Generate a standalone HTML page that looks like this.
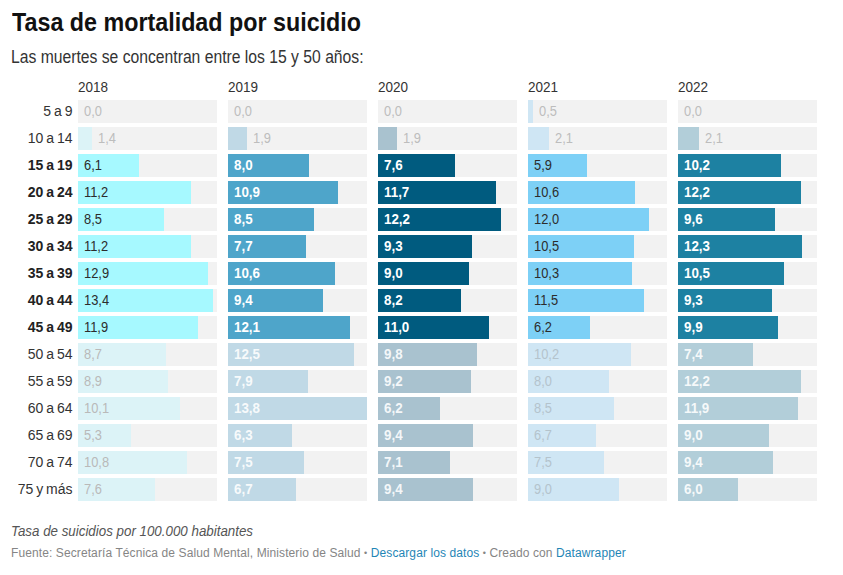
<!DOCTYPE html>
<html><head><meta charset="utf-8"><title>Tasa de mortalidad por suicidio</title>
<style>
html,body{margin:0;padding:0;background:#fff;}
body{width:843px;height:575px;position:relative;overflow:hidden;font-family:"Liberation Sans",sans-serif;color:#333;}
.abs{position:absolute;white-space:nowrap;}
h1{position:absolute;margin:0;left:12px;top:7px;font-size:25.6px;line-height:30px;font-weight:bold;color:#111;white-space:nowrap;transform-origin:0 0;transform:scaleX(0.91);}
.sub{left:11px;top:46px;font-size:17.5px;line-height:22px;color:#333;transform-origin:0 0;transform:scaleX(0.897);}
.yr{font-size:14px;line-height:16px;color:#333;top:79px;transform-origin:0 0;transform:scaleX(0.965);}
.lab{font-size:14px;line-height:22.7px;color:#333;text-align:right;left:0;width:72.5px;word-spacing:-1px;}
.lab.b{font-weight:bold;color:#222;}
.bg{background:#f2f2f2;height:22.7px;width:139px;}
.bar{height:22.7px;}
.v{font-size:14px;line-height:22.7px;transform-origin:0 0;transform:scaleX(0.92);}
.v.b{font-weight:bold;transform:scaleX(0.955);}
.v.f{opacity:0.88;}
.foot i{font-style:normal;font-size:9px;position:relative;top:-1px;}
.note{left:11px;top:522px;font-size:14.5px;line-height:18px;font-style:italic;color:#555;transform-origin:0 0;transform:scaleX(0.92);}
.foot{left:11px;top:545px;font-size:12px;line-height:16px;color:#858585;letter-spacing:0.1px;}
.foot a{color:#1f86b6;text-decoration:none;}
</style></head><body>
<h1>Tasa de mortalidad por suicidio</h1>
<div class="abs sub">Las muertes se concentran entre los 15 y 50 años:</div>

<div class="abs lab" style="top:100px">5 a 9</div>
<div class="abs lab" style="top:127px">10 a 14</div>
<div class="abs lab b" style="top:154px">15 a 19</div>
<div class="abs lab b" style="top:181px">20 a 24</div>
<div class="abs lab b" style="top:208px">25 a 29</div>
<div class="abs lab b" style="top:235px">30 a 34</div>
<div class="abs lab b" style="top:262px">35 a 39</div>
<div class="abs lab b" style="top:289px">40 a 44</div>
<div class="abs lab b" style="top:316px">45 a 49</div>
<div class="abs lab" style="top:343px">50 a 54</div>
<div class="abs lab" style="top:370px">55 a 59</div>
<div class="abs lab" style="top:397px">60 a 64</div>
<div class="abs lab" style="top:424px">65 a 69</div>
<div class="abs lab" style="top:451px">70 a 74</div>
<div class="abs lab" style="top:478px">75 y más</div>
<div class="abs yr" style="left:78px">2018</div>
<div class="abs bg" style="left:78px;top:100px"></div>
<div class="abs v" style="left:83.5px;top:100px;color:#bdbdbd">0,0</div>
<div class="abs bg" style="left:78px;top:127px"></div>
<div class="abs bar" style="left:78px;top:127px;width:14.1px;background:#dcf3f7"></div>
<div class="abs v" style="left:97.6px;top:127px;color:#bdbdbd">1,4</div>
<div class="abs bg" style="left:78px;top:154px"></div>
<div class="abs bar" style="left:78px;top:154px;width:61.4px;background:#a6f9ff"></div>
<div class="abs v" style="left:83.5px;top:154px;color:#2c2c2c">6,1</div>
<div class="abs bg" style="left:78px;top:181px"></div>
<div class="abs bar" style="left:78px;top:181px;width:112.8px;background:#a6f9ff"></div>
<div class="abs v" style="left:83.5px;top:181px;color:#2c2c2c">11,2</div>
<div class="abs bg" style="left:78px;top:208px"></div>
<div class="abs bar" style="left:78px;top:208px;width:85.6px;background:#a6f9ff"></div>
<div class="abs v" style="left:83.5px;top:208px;color:#2c2c2c">8,5</div>
<div class="abs bg" style="left:78px;top:235px"></div>
<div class="abs bar" style="left:78px;top:235px;width:112.8px;background:#a6f9ff"></div>
<div class="abs v" style="left:83.5px;top:235px;color:#2c2c2c">11,2</div>
<div class="abs bg" style="left:78px;top:262px"></div>
<div class="abs bar" style="left:78px;top:262px;width:129.9px;background:#a6f9ff"></div>
<div class="abs v" style="left:83.5px;top:262px;color:#2c2c2c">12,9</div>
<div class="abs bg" style="left:78px;top:289px"></div>
<div class="abs bar" style="left:78px;top:289px;width:135.0px;background:#a6f9ff"></div>
<div class="abs v" style="left:83.5px;top:289px;color:#2c2c2c">13,4</div>
<div class="abs bg" style="left:78px;top:316px"></div>
<div class="abs bar" style="left:78px;top:316px;width:119.9px;background:#a6f9ff"></div>
<div class="abs v" style="left:83.5px;top:316px;color:#2c2c2c">11,9</div>
<div class="abs bg" style="left:78px;top:343px"></div>
<div class="abs bar" style="left:78px;top:343px;width:87.6px;background:#dcf3f7"></div>
<div class="abs v" style="left:83.5px;top:343px;color:#b9b9b9">8,7</div>
<div class="abs bg" style="left:78px;top:370px"></div>
<div class="abs bar" style="left:78px;top:370px;width:89.6px;background:#dcf3f7"></div>
<div class="abs v" style="left:83.5px;top:370px;color:#b9b9b9">8,9</div>
<div class="abs bg" style="left:78px;top:397px"></div>
<div class="abs bar" style="left:78px;top:397px;width:101.7px;background:#dcf3f7"></div>
<div class="abs v" style="left:83.5px;top:397px;color:#b9b9b9">10,1</div>
<div class="abs bg" style="left:78px;top:424px"></div>
<div class="abs bar" style="left:78px;top:424px;width:53.4px;background:#dcf3f7"></div>
<div class="abs v" style="left:83.5px;top:424px;color:#b9b9b9">5,3</div>
<div class="abs bg" style="left:78px;top:451px"></div>
<div class="abs bar" style="left:78px;top:451px;width:108.8px;background:#dcf3f7"></div>
<div class="abs v" style="left:83.5px;top:451px;color:#b9b9b9">10,8</div>
<div class="abs bg" style="left:78px;top:478px"></div>
<div class="abs bar" style="left:78px;top:478px;width:76.6px;background:#dcf3f7"></div>
<div class="abs v" style="left:83.5px;top:478px;color:#b9b9b9">7,6</div>
<div class="abs yr" style="left:228px">2019</div>
<div class="abs bg" style="left:228px;top:100px"></div>
<div class="abs v" style="left:233.5px;top:100px;color:#bdbdbd">0,0</div>
<div class="abs bg" style="left:228px;top:127px"></div>
<div class="abs bar" style="left:228px;top:127px;width:19.1px;background:#c0d9e6"></div>
<div class="abs v" style="left:252.6px;top:127px;color:#bdbdbd">1,9</div>
<div class="abs bg" style="left:228px;top:154px"></div>
<div class="abs bar" style="left:228px;top:154px;width:80.6px;background:#4ea5ca"></div>
<div class="abs v b" style="left:233.5px;top:154px;color:#fff">8,0</div>
<div class="abs bg" style="left:228px;top:181px"></div>
<div class="abs bar" style="left:228px;top:181px;width:109.8px;background:#4ea5ca"></div>
<div class="abs v b" style="left:233.5px;top:181px;color:#fff">10,9</div>
<div class="abs bg" style="left:228px;top:208px"></div>
<div class="abs bar" style="left:228px;top:208px;width:85.6px;background:#4ea5ca"></div>
<div class="abs v b" style="left:233.5px;top:208px;color:#fff">8,5</div>
<div class="abs bg" style="left:228px;top:235px"></div>
<div class="abs bar" style="left:228px;top:235px;width:77.6px;background:#4ea5ca"></div>
<div class="abs v b" style="left:233.5px;top:235px;color:#fff">7,7</div>
<div class="abs bg" style="left:228px;top:262px"></div>
<div class="abs bar" style="left:228px;top:262px;width:106.8px;background:#4ea5ca"></div>
<div class="abs v b" style="left:233.5px;top:262px;color:#fff">10,6</div>
<div class="abs bg" style="left:228px;top:289px"></div>
<div class="abs bar" style="left:228px;top:289px;width:94.7px;background:#4ea5ca"></div>
<div class="abs v b" style="left:233.5px;top:289px;color:#fff">9,4</div>
<div class="abs bg" style="left:228px;top:316px"></div>
<div class="abs bar" style="left:228px;top:316px;width:121.9px;background:#4ea5ca"></div>
<div class="abs v b" style="left:233.5px;top:316px;color:#fff">12,1</div>
<div class="abs bg" style="left:228px;top:343px"></div>
<div class="abs bar" style="left:228px;top:343px;width:125.9px;background:#c0d9e6"></div>
<div class="abs v b f" style="left:233.5px;top:343px;color:#fff">12,5</div>
<div class="abs bg" style="left:228px;top:370px"></div>
<div class="abs bar" style="left:228px;top:370px;width:79.6px;background:#c0d9e6"></div>
<div class="abs v b f" style="left:233.5px;top:370px;color:#fff">7,9</div>
<div class="abs bg" style="left:228px;top:397px"></div>
<div class="abs bar" style="left:228px;top:397px;width:139.0px;background:#c0d9e6"></div>
<div class="abs v b f" style="left:233.5px;top:397px;color:#fff">13,8</div>
<div class="abs bg" style="left:228px;top:424px"></div>
<div class="abs bar" style="left:228px;top:424px;width:63.5px;background:#c0d9e6"></div>
<div class="abs v b f" style="left:233.5px;top:424px;color:#fff">6,3</div>
<div class="abs bg" style="left:228px;top:451px"></div>
<div class="abs bar" style="left:228px;top:451px;width:75.5px;background:#c0d9e6"></div>
<div class="abs v b f" style="left:233.5px;top:451px;color:#fff">7,5</div>
<div class="abs bg" style="left:228px;top:478px"></div>
<div class="abs bar" style="left:228px;top:478px;width:67.5px;background:#c0d9e6"></div>
<div class="abs v b f" style="left:233.5px;top:478px;color:#fff">6,7</div>
<div class="abs yr" style="left:378px">2020</div>
<div class="abs bg" style="left:378px;top:100px"></div>
<div class="abs v" style="left:383.5px;top:100px;color:#bdbdbd">0,0</div>
<div class="abs bg" style="left:378px;top:127px"></div>
<div class="abs bar" style="left:378px;top:127px;width:19.1px;background:#a9c2cf"></div>
<div class="abs v" style="left:402.6px;top:127px;color:#bdbdbd">1,9</div>
<div class="abs bg" style="left:378px;top:154px"></div>
<div class="abs bar" style="left:378px;top:154px;width:76.6px;background:#005b7f"></div>
<div class="abs v b" style="left:383.5px;top:154px;color:#fff">7,6</div>
<div class="abs bg" style="left:378px;top:181px"></div>
<div class="abs bar" style="left:378px;top:181px;width:117.8px;background:#005b7f"></div>
<div class="abs v b" style="left:383.5px;top:181px;color:#fff">11,7</div>
<div class="abs bg" style="left:378px;top:208px"></div>
<div class="abs bar" style="left:378px;top:208px;width:122.9px;background:#005b7f"></div>
<div class="abs v b" style="left:383.5px;top:208px;color:#fff">12,2</div>
<div class="abs bg" style="left:378px;top:235px"></div>
<div class="abs bar" style="left:378px;top:235px;width:93.7px;background:#005b7f"></div>
<div class="abs v b" style="left:383.5px;top:235px;color:#fff">9,3</div>
<div class="abs bg" style="left:378px;top:262px"></div>
<div class="abs bar" style="left:378px;top:262px;width:90.7px;background:#005b7f"></div>
<div class="abs v b" style="left:383.5px;top:262px;color:#fff">9,0</div>
<div class="abs bg" style="left:378px;top:289px"></div>
<div class="abs bar" style="left:378px;top:289px;width:82.6px;background:#005b7f"></div>
<div class="abs v b" style="left:383.5px;top:289px;color:#fff">8,2</div>
<div class="abs bg" style="left:378px;top:316px"></div>
<div class="abs bar" style="left:378px;top:316px;width:110.8px;background:#005b7f"></div>
<div class="abs v b" style="left:383.5px;top:316px;color:#fff">11,0</div>
<div class="abs bg" style="left:378px;top:343px"></div>
<div class="abs bar" style="left:378px;top:343px;width:98.7px;background:#a9c2cf"></div>
<div class="abs v b f" style="left:383.5px;top:343px;color:#fff">9,8</div>
<div class="abs bg" style="left:378px;top:370px"></div>
<div class="abs bar" style="left:378px;top:370px;width:92.7px;background:#a9c2cf"></div>
<div class="abs v b f" style="left:383.5px;top:370px;color:#fff">9,2</div>
<div class="abs bg" style="left:378px;top:397px"></div>
<div class="abs bar" style="left:378px;top:397px;width:62.4px;background:#a9c2cf"></div>
<div class="abs v b f" style="left:383.5px;top:397px;color:#fff">6,2</div>
<div class="abs bg" style="left:378px;top:424px"></div>
<div class="abs bar" style="left:378px;top:424px;width:94.7px;background:#a9c2cf"></div>
<div class="abs v b f" style="left:383.5px;top:424px;color:#fff">9,4</div>
<div class="abs bg" style="left:378px;top:451px"></div>
<div class="abs bar" style="left:378px;top:451px;width:71.5px;background:#a9c2cf"></div>
<div class="abs v b f" style="left:383.5px;top:451px;color:#fff">7,1</div>
<div class="abs bg" style="left:378px;top:478px"></div>
<div class="abs bar" style="left:378px;top:478px;width:94.7px;background:#a9c2cf"></div>
<div class="abs v b f" style="left:383.5px;top:478px;color:#fff">9,4</div>
<div class="abs yr" style="left:528px">2021</div>
<div class="abs bg" style="left:528px;top:100px"></div>
<div class="abs bar" style="left:528px;top:100px;width:5.0px;background:#cfe6f4"></div>
<div class="abs v" style="left:538.5px;top:100px;color:#bdbdbd">0,5</div>
<div class="abs bg" style="left:528px;top:127px"></div>
<div class="abs bar" style="left:528px;top:127px;width:21.2px;background:#cfe6f4"></div>
<div class="abs v" style="left:554.7px;top:127px;color:#bdbdbd">2,1</div>
<div class="abs bg" style="left:528px;top:154px"></div>
<div class="abs bar" style="left:528px;top:154px;width:59.4px;background:#7dd0f6"></div>
<div class="abs v" style="left:533.5px;top:154px;color:#2c2c2c">5,9</div>
<div class="abs bg" style="left:528px;top:181px"></div>
<div class="abs bar" style="left:528px;top:181px;width:106.8px;background:#7dd0f6"></div>
<div class="abs v" style="left:533.5px;top:181px;color:#2c2c2c">10,6</div>
<div class="abs bg" style="left:528px;top:208px"></div>
<div class="abs bar" style="left:528px;top:208px;width:120.9px;background:#7dd0f6"></div>
<div class="abs v" style="left:533.5px;top:208px;color:#2c2c2c">12,0</div>
<div class="abs bg" style="left:528px;top:235px"></div>
<div class="abs bar" style="left:528px;top:235px;width:105.8px;background:#7dd0f6"></div>
<div class="abs v" style="left:533.5px;top:235px;color:#2c2c2c">10,5</div>
<div class="abs bg" style="left:528px;top:262px"></div>
<div class="abs bar" style="left:528px;top:262px;width:103.7px;background:#7dd0f6"></div>
<div class="abs v" style="left:533.5px;top:262px;color:#2c2c2c">10,3</div>
<div class="abs bg" style="left:528px;top:289px"></div>
<div class="abs bar" style="left:528px;top:289px;width:115.8px;background:#7dd0f6"></div>
<div class="abs v" style="left:533.5px;top:289px;color:#2c2c2c">11,5</div>
<div class="abs bg" style="left:528px;top:316px"></div>
<div class="abs bar" style="left:528px;top:316px;width:62.4px;background:#7dd0f6"></div>
<div class="abs v" style="left:533.5px;top:316px;color:#2c2c2c">6,2</div>
<div class="abs bg" style="left:528px;top:343px"></div>
<div class="abs bar" style="left:528px;top:343px;width:102.7px;background:#cfe6f4"></div>
<div class="abs v" style="left:533.5px;top:343px;color:#b4c3cc">10,2</div>
<div class="abs bg" style="left:528px;top:370px"></div>
<div class="abs bar" style="left:528px;top:370px;width:80.6px;background:#cfe6f4"></div>
<div class="abs v" style="left:533.5px;top:370px;color:#b4c3cc">8,0</div>
<div class="abs bg" style="left:528px;top:397px"></div>
<div class="abs bar" style="left:528px;top:397px;width:85.6px;background:#cfe6f4"></div>
<div class="abs v" style="left:533.5px;top:397px;color:#b4c3cc">8,5</div>
<div class="abs bg" style="left:528px;top:424px"></div>
<div class="abs bar" style="left:528px;top:424px;width:67.5px;background:#cfe6f4"></div>
<div class="abs v" style="left:533.5px;top:424px;color:#b4c3cc">6,7</div>
<div class="abs bg" style="left:528px;top:451px"></div>
<div class="abs bar" style="left:528px;top:451px;width:75.5px;background:#cfe6f4"></div>
<div class="abs v" style="left:533.5px;top:451px;color:#b4c3cc">7,5</div>
<div class="abs bg" style="left:528px;top:478px"></div>
<div class="abs bar" style="left:528px;top:478px;width:90.7px;background:#cfe6f4"></div>
<div class="abs v" style="left:533.5px;top:478px;color:#b4c3cc">9,0</div>
<div class="abs yr" style="left:678px">2022</div>
<div class="abs bg" style="left:678px;top:100px"></div>
<div class="abs v" style="left:683.5px;top:100px;color:#bdbdbd">0,0</div>
<div class="abs bg" style="left:678px;top:127px"></div>
<div class="abs bar" style="left:678px;top:127px;width:21.2px;background:#b2ced9"></div>
<div class="abs v" style="left:704.7px;top:127px;color:#bdbdbd">2,1</div>
<div class="abs bg" style="left:678px;top:154px"></div>
<div class="abs bar" style="left:678px;top:154px;width:102.7px;background:#1d81a2"></div>
<div class="abs v b" style="left:683.5px;top:154px;color:#fff">10,2</div>
<div class="abs bg" style="left:678px;top:181px"></div>
<div class="abs bar" style="left:678px;top:181px;width:122.9px;background:#1d81a2"></div>
<div class="abs v b" style="left:683.5px;top:181px;color:#fff">12,2</div>
<div class="abs bg" style="left:678px;top:208px"></div>
<div class="abs bar" style="left:678px;top:208px;width:96.7px;background:#1d81a2"></div>
<div class="abs v b" style="left:683.5px;top:208px;color:#fff">9,6</div>
<div class="abs bg" style="left:678px;top:235px"></div>
<div class="abs bar" style="left:678px;top:235px;width:123.9px;background:#1d81a2"></div>
<div class="abs v b" style="left:683.5px;top:235px;color:#fff">12,3</div>
<div class="abs bg" style="left:678px;top:262px"></div>
<div class="abs bar" style="left:678px;top:262px;width:105.8px;background:#1d81a2"></div>
<div class="abs v b" style="left:683.5px;top:262px;color:#fff">10,5</div>
<div class="abs bg" style="left:678px;top:289px"></div>
<div class="abs bar" style="left:678px;top:289px;width:93.7px;background:#1d81a2"></div>
<div class="abs v b" style="left:683.5px;top:289px;color:#fff">9,3</div>
<div class="abs bg" style="left:678px;top:316px"></div>
<div class="abs bar" style="left:678px;top:316px;width:99.7px;background:#1d81a2"></div>
<div class="abs v b" style="left:683.5px;top:316px;color:#fff">9,9</div>
<div class="abs bg" style="left:678px;top:343px"></div>
<div class="abs bar" style="left:678px;top:343px;width:74.5px;background:#b2ced9"></div>
<div class="abs v b f" style="left:683.5px;top:343px;color:#fff">7,4</div>
<div class="abs bg" style="left:678px;top:370px"></div>
<div class="abs bar" style="left:678px;top:370px;width:122.9px;background:#b2ced9"></div>
<div class="abs v b f" style="left:683.5px;top:370px;color:#fff">12,2</div>
<div class="abs bg" style="left:678px;top:397px"></div>
<div class="abs bar" style="left:678px;top:397px;width:119.9px;background:#b2ced9"></div>
<div class="abs v b f" style="left:683.5px;top:397px;color:#fff">11,9</div>
<div class="abs bg" style="left:678px;top:424px"></div>
<div class="abs bar" style="left:678px;top:424px;width:90.7px;background:#b2ced9"></div>
<div class="abs v b f" style="left:683.5px;top:424px;color:#fff">9,0</div>
<div class="abs bg" style="left:678px;top:451px"></div>
<div class="abs bar" style="left:678px;top:451px;width:94.7px;background:#b2ced9"></div>
<div class="abs v b f" style="left:683.5px;top:451px;color:#fff">9,4</div>
<div class="abs bg" style="left:678px;top:478px"></div>
<div class="abs bar" style="left:678px;top:478px;width:60.4px;background:#b2ced9"></div>
<div class="abs v b f" style="left:683.5px;top:478px;color:#fff">6,0</div>
<div class="abs note">Tasa de suicidios por 100.000 habitantes</div>
<div class="abs foot">Fuente: Secretaría Técnica de Salud Mental, Ministerio de Salud <i>•</i> <a>Descargar los datos</a> <i>•</i> Creado con <a>Datawrapper</a></div>
</body></html>
